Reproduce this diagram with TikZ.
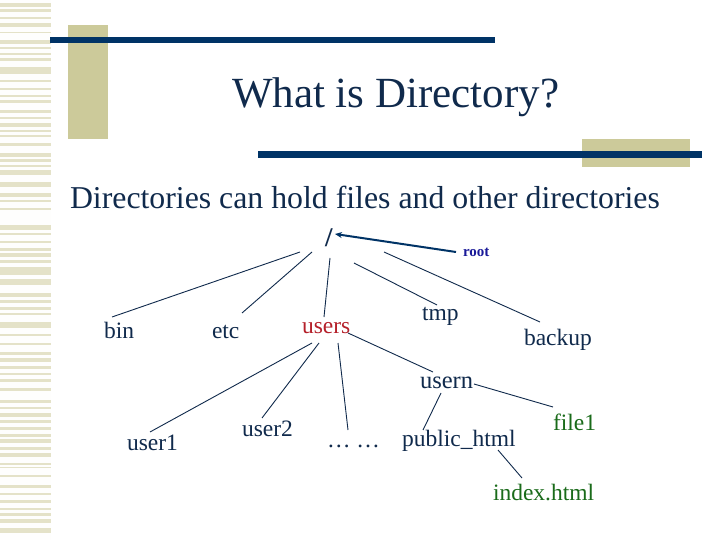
\documentclass[tikz,border=0pt]{standalone}
\usepackage{fontspec}
\setmainfont{Liberation Serif}
\usetikzlibrary{calc,arrows.meta}
\definecolor{navy}{HTML}{003366}
\definecolor{txt}{HTML}{102A4C}
\definecolor{beige}{HTML}{CCCA9A}
\definecolor{stripe}{HTML}{E4E2C8}
\definecolor{usred}{HTML}{B5202A}
\definecolor{fgreen}{HTML}{1A6B1A}
\definecolor{rootblue}{HTML}{1A1A99}
\tikzset{
  lbl/.style={anchor=base west, inner sep=0pt, outer sep=0pt, text=txt, font=\fontsize{23.5}{28}\selectfont},
  edge/.style={draw=txt, line width=0.9pt},
}
\begin{document}
\begin{tikzpicture}[x=1pt,y=-1pt]
\useasboundingbox (0,0) rectangle (720,540);
\fill[white] (0,0) rectangle (720,540);
\fill[white!97!stripe] (0,0) rectangle (51,540);
\foreach \a/\b in {3/7,9/12,17/19,23/27,32/33,40/44,47/49,53/55,58/61,67/74,80/82,88/90,95/97,100/103,110/113,117/119,123/127,130/132,135/137,143/146,153/157,159/162,165/167,170/175,182/187,193/197,200/202,208/210,225/230,233/235,241/243,248/251,253/257,260/263,267/275,279/285,293/297,300/303,307/310,313/315,322/328,334/336,343/345,352/355,358/362,366/369,373/375,379/382,388/391,400/403,407/409,413/417,420/423,427/430,434/437,439/443,447/450,453/457,463/465,467/468,475/477,485/488,493/495,500/503,508/510,513/516,519/523,528/533}
  \fill[stripe] (0,\a) rectangle (51,\b);
% decorative bars
\fill[beige] (68,25) rectangle (108,139);
\fill[navy] (50,37) rectangle (495,43);
\fill[beige] (582,139) rectangle (690,167);
\fill[navy] (258,151) rectangle (702,158);
% texts
\node[lbl, font=\fontsize{43}{50}\selectfont] (title) at (232,108) {What is Directory?};
\node[lbl, font=\fontsize{31.8}{38}\selectfont] (sub) at (70,209) {Directories can hold files and other directories};
% tree
\node[lbl, font=\fontsize{27}{32}\selectfont\bfseries] (slash) at (325,247) {/};
\node[lbl, text=rootblue, font=\fontsize{15}{18}\selectfont\bfseries] (root) at (463,256) {root};
\node[lbl] (bin) at (104,338) {bin};
\node[lbl] (etc) at (212,338) {etc};
\node[lbl, text=usred] (users) at (302,333) {users};
\node[lbl] (tmp) at (422,320) {tmp};
\node[lbl] (backup) at (524,345) {backup};
\node[lbl, font=\fontsize{24.5}{29}\selectfont] (usern) at (420,388) {usern};
\node[lbl] (user1) at (127,450) {user1};
\node[lbl] (user2) at (242,436) {user2};
\node[lbl] (dots) at (327,447) {… …};
\node[lbl] (pub) at (402,446) {public\_html};
\node[lbl, text=fgreen] (file1) at (553,430) {file1};
\node[lbl, text=fgreen] (index) at (493,500) {index.html};
% connectors
\draw[navy, line width=2pt, -{Stealth[length=7pt,width=6pt]}] ($(root.base west)+(-7,-4)$) -- ($(slash.base west)+(10,-13)$);
\draw[edge] ($(slash.base west)+(-25,5)$) -- ($(bin.base west)+(8,-21)$);
\draw[edge] ($(slash.base west)+(-13,5)$) -- ($(etc.base west)+(30,-25)$);
\draw[edge] ($(slash.base west)+(5,11)$) -- ($(users.base west)+(22,-16)$);
\draw[edge] ($(slash.base west)+(29,16)$) -- ($(tmp.base west)+(15,-15)$);
\draw[edge] ($(slash.base west)+(59,5)$) -- ($(backup.base west)+(16,-23)$);
\draw[edge] ($(users.base west)+(10,10)$) -- ($(user1.base west)+(23,-18)$);
\draw[edge] ($(users.base west)+(17,10)$) -- ($(user2.base west)+(20,-18)$);
\draw[edge] ($(users.base west)+(36,10)$) -- ($(dots.base west)+(21,-17)$);
\draw[edge] ($(users.base west)+(46,0)$) -- ($(usern.base west)+(13,-16)$);
\draw[edge] ($(usern.base west)+(21,5)$) -- ($(pub.base west)+(21,-16)$);
\draw[edge] ($(usern.base west)+(54,-4)$) -- ($(file1.base west)+(0,-23)$);
\draw[edge] ($(pub.base west)+(96,4)$) -- ($(index.base west)+(29,-22)$);
\end{tikzpicture}
\end{document}
